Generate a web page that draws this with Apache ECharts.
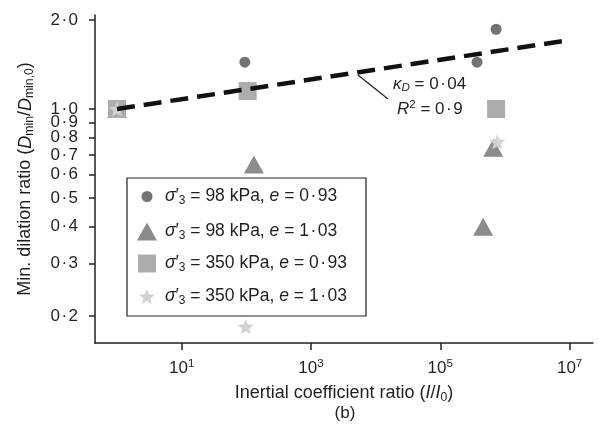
<!DOCTYPE html>
<html>
<head>
<meta charset="utf-8">
<script src="https://cdn.jsdelivr.net/npm/echarts@6/dist/echarts.min.js"></script>
<style>
html, body { margin: 0; padding: 0; background: #fff; }
#chart { width: 599px; height: 435px; }
</style>
</head>
<body>
<div id="chart"></div>
<script>
// values: [I/I0, Dmin/Dmin,0]
const circle98 = [[1, 1.0], [95, 1.44], [3.7e5, 1.44], [7.3e5, 1.86]];
const tri98 = [[1, 1.0], [131, 0.65], [4.6e5, 0.40], [6.6e5, 0.74]];
const square350 = [[1, 1.0], [105, 1.15], [7.3e5, 1.0]];
const star350 = [[1, 1.0], [98, 0.184], [7.6e5, 0.775]];
const fitLine = [[1, 1.0], [1e7, 1.71]];

const xTicks = [10, 1e3, 1e5, 1e7];
const yTicks = [0.2, 0.3, 0.4, 0.5, 0.6, 0.7, 0.8, 0.9, 1.0, 2.0];

const seriesNames = ['s1', 's2', 's3', 's4'];
const stress = [98, 98, 350, 350];
const voidRatio = [0.93, 1.03, 0.93, 1.03];

const FONT = 'Liberation Sans';
const INK = '#231f20';
const STAR = 'path://M50,0L62.9,32.2L97.6,34.5L70.9,56.8L79.4,90.5L50,72L20.6,90.5L29.1,56.8L2.4,34.5L37.1,32.2Z';

// decimal point drawn as a spaced middle dot, like the journal style
function dot (v, n) {
  return v.toFixed(n).replace('.', '{d|·}')
}

function rich (size) {
  return {
    it: {fontFamily: FONT, fontStyle: 'italic', fontSize: size, color: INK},
    d: {fontFamily: FONT, fontSize: size, color: INK, padding: [0, 1.5, 0, 1.5]},
    sub: {fontFamily: FONT, fontSize: size * 0.68, color: INK, verticalAlign: 'bottom', lineHeight: 12},
    subIt: {fontFamily: FONT, fontStyle: 'italic', fontSize: size * 0.68, color: INK, verticalAlign: 'bottom', lineHeight: 12},
    sup: {fontFamily: FONT, fontSize: size * 0.68, color: INK, verticalAlign: 'top', lineHeight: 12}
  }
}

function legendText (name) {
  let i = seriesNames.indexOf(name)
  return '{it|σ}′{sub|3} = ' + stress[i] + ' kPa, {it|e} = ' + dot(voidRatio[i], 2)
}

function makeLegend (name, icon, w, h, top) {
  let cx = 147
  let left = cx - w / 2
  return {
    data: [{name: name, icon: icon}],
    left: left,
    top: top,
    padding: 0,
    itemWidth: w,
    itemHeight: h,
    selectedMode: false,
    formatter: legendText,
    textStyle: {
      fontFamily: FONT,
      fontSize: 17.5,
      color: INK,
      lineHeight: 21,
      padding: [0, 0, 0, 165 - (left + w + 5)],
      rich: rich(17.5)
    }
  }
}

let myChart = echarts.init(document.getElementById('chart'))

let option = {
  animation: false,
  textStyle: {fontFamily: FONT},
  grid: {left: 95, right: 6, top: 15, bottom: 92, outerBoundsMode: 'none'},
  legend: [
    makeLegend('s1', 'circle', 11, 11, 186),
    makeLegend('s2', 'triangle', 20, 18, 221),
    makeLegend('s3', 'rect', 18, 18, 253),
    makeLegend('s4', STAR, 16, 15, 286)
  ],
  xAxis: {
    type: 'log',
    logBase: 10,
    min: 0.457,
    max: 2.3e7,
    name: 'Inertial coefficient ratio ({it|I}/{it|I}{sub|0})',
    nameLocation: 'middle',
    nameGap: 35,
    nameTextStyle: {
      fontFamily: FONT,
      fontSize: 18,
      color: INK,
      lineHeight: 21,
      rich: rich(18)
    },
    axisLine: {lineStyle: {color: INK, width: 1.5}},
    axisTick: {customValues: xTicks, length: 7, lineStyle: {color: INK, width: 1.5}},
    axisLabel: {
      customValues: xTicks,
      margin: 15,
      fontSize: 17,
      color: INK,
      lineHeight: 20,
      formatter: function (v) {
        return '10{sup|' + Math.round(Math.log10(v)) + '}'
      },
      rich: rich(17)
    },
    splitLine: {show: false}
  },
  yAxis: {
    type: 'log',
    logBase: 10,
    min: 0.162,
    max: 2.078,
    name: 'Min. dilation ratio ({it|D}{sub|min}/{it|D}{sub|min,0})',
    nameLocation: 'middle',
    nameGap: 59,
    nameTextStyle: {
      fontFamily: FONT,
      fontSize: 18,
      color: INK,
      lineHeight: 21,
      rich: rich(18)
    },
    axisLine: {lineStyle: {color: INK, width: 1.5}},
    axisTick: {customValues: yTicks, length: 6, lineStyle: {color: INK, width: 1.5}},
    axisLabel: {
      customValues: yTicks,
      margin: 17,
      fontSize: 17,
      color: INK,
      formatter: function (v) { return dot(v, 1) },
      rich: rich(17)
    },
    splitLine: {show: false}
  },
  series: [
    {
      name: 's1',
      type: 'scatter',
      symbol: 'circle',
      symbolSize: 11,
      itemStyle: {color: '#737375', opacity: 1},
      data: circle98
    },
    {
      name: 's2',
      type: 'scatter',
      symbol: 'triangle',
      symbolSize: [20, 18],
      itemStyle: {color: '#8c8c8e', opacity: 1},
      data: tri98
    },
    {
      name: 's3',
      type: 'scatter',
      symbol: 'rect',
      symbolSize: 18,
      itemStyle: {color: '#adadaf', opacity: 1},
      data: square350
    },
    {
      name: 's4',
      type: 'scatter',
      symbol: STAR,
      symbolSize: [16, 15],
      itemStyle: {color: '#d2d2d2', opacity: 1},
      data: star350
    },
    {
      name: 'fit',
      type: 'line',
      symbol: 'none',
      silent: true,
      lineStyle: {color: '#111', width: 4.5, type: [18, 9]},
      data: fitLine
    }
  ],
  graphic: [
    {
      type: 'rect',
      shape: {x: 127, y: 178, width: 239, height: 138},
      style: {fill: 'none', stroke: INK, lineWidth: 1.2}
    },
    {
      type: 'line',
      shape: {x1: 358, y1: 75, x2: 388, y2: 99},
      style: {stroke: INK, lineWidth: 1.2}
    },
    {
      type: 'text',
      x: 393,
      y: 84,
      style: {
        text: '{it|κ}{subIt|D} = ' + dot(0.04, 2),
        fontFamily: FONT,
        fontSize: 17,
        fill: INK,
        lineHeight: 20,
        verticalAlign: 'middle',
        rich: rich(17)
      }
    },
    {
      type: 'text',
      x: 397,
      y: 109,
      style: {
        text: '{it|R}{sup|2} = ' + dot(0.9, 1),
        fontFamily: FONT,
        fontSize: 17,
        fill: INK,
        lineHeight: 20,
        verticalAlign: 'middle',
        rich: rich(17)
      }
    },
    {
      type: 'text',
      x: 345,
      y: 413,
      style: {
        text: '(b)',
        fontFamily: FONT,
        fontSize: 17,
        fill: INK,
        align: 'center',
        verticalAlign: 'middle'
      }
    }
  ]
}

myChart.setOption(option)
</script>
</body>
</html>
